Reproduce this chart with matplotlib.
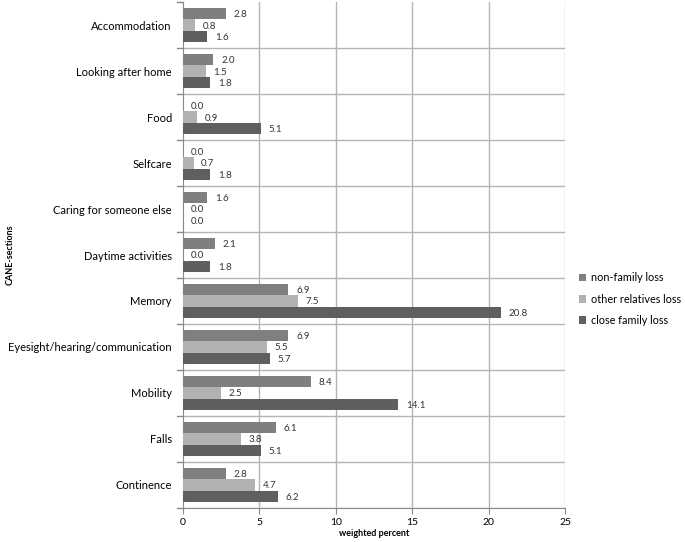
import numpy as np
import matplotlib.pyplot as plt

plt.rcParams['font.family'] = ['Lato', 'DejaVu Sans']

sections = ['Accommodation', 'Looking after home', 'Food', 'Selfcare',
            'Caring for someone else', 'Daytime activities', 'Memory',
            'Eyesight/hearing/communication', 'Mobility', 'Falls', 'Continence']
non_family = [2.8, 2.0, 0.0, 0.0, 1.6, 2.1, 6.9, 6.9, 8.4, 6.1, 2.8]
other_relatives = [0.8, 1.5, 0.9, 0.7, 0.0, 0.0, 7.5, 5.5, 2.5, 3.8, 4.7]
close_family = [1.6, 1.8, 5.1, 1.8, 0.0, 1.8, 20.8, 5.7, 14.1, 5.1, 6.2]
series_names = ['non-family loss', 'other relatives loss', 'close family loss']
colors = ['#7f7f7f', '#b2b2b2', '#5f5f5f']

fig = plt.figure(figsize=(6.85, 5.42), dpi=100)
ax = fig.add_axes([0.267, 0.063, 0.558, 0.933])

y = np.arange(len(sections))
h = 0.25
offsets = [-h, 0, h]
for vals, off, col, name in zip([non_family, other_relatives, close_family], offsets, colors, series_names):
    bars = ax.barh(y + off, vals, height=h, color=col, label=name, zorder=3)
    for b, v in zip(bars, vals):
        ax.text(b.get_width() + 0.5, b.get_y() + b.get_height() / 2 + 0.02, '%.1f' % v,
                va='center', ha='left', fontsize=7, color='#333333', zorder=4)

ax.set_xlim(0, 25)
ax.set_ylim(len(sections) - 0.5, -0.5)
ax.set_xticks([0, 5, 10, 15, 20, 25])
ax.set_yticks(y)
ax.set_yticklabels(sections, fontsize=8)
ax.tick_params(axis='y', length=0, pad=8)
ax.tick_params(axis='x', labelsize=7.5, length=4, color='#888888', pad=3)

# gridlines between categories and tick marks at boundaries
for b in np.arange(-0.5, len(sections), 1.0):
    if b > -0.5:
        ax.axhline(b, color='#b4b4b4', lw=1, zorder=1)
    ax.plot([-0.4, 0], [b, b], color='#888888', lw=1, clip_on=False, zorder=2)
for xv in [5, 10, 15, 20, 25]:
    ax.axvline(xv, color='#b4b4b4', lw=1, zorder=1)

for s in ['top', 'right']:
    ax.spines[s].set_visible(False)
ax.spines['left'].set_color('#888888')
ax.spines['bottom'].set_color('#888888')

ax.set_xlabel('weighted percent', fontsize=6.5, fontweight='bold', labelpad=2)
ax.set_ylabel('CANE-sections', fontsize=6.5, fontweight='bold', labelpad=0)
ax.yaxis.set_label_coords(-0.44, 0.5)

ax.legend(loc='center left', bbox_to_anchor=(1.01, 0.413), frameon=False, fontsize=7.8,
          handlelength=0.7, handleheight=0.7, handletextpad=0.4, labelspacing=0.95)

fig.savefig('out.png', dpi=100)
